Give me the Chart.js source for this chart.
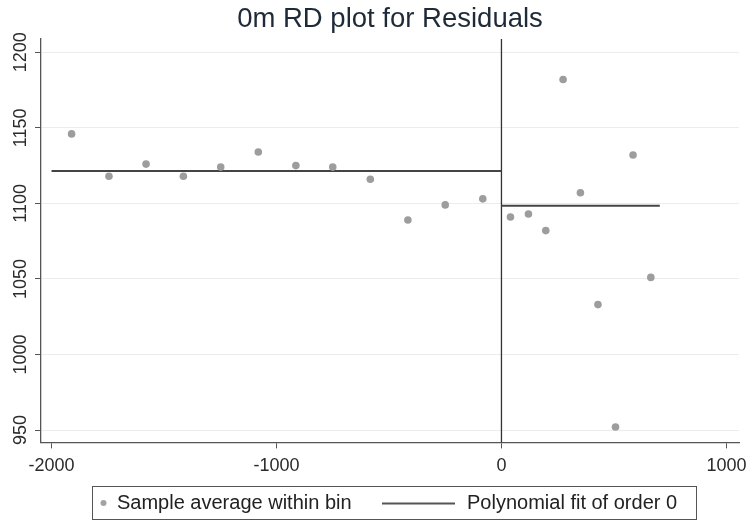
<!DOCTYPE html>
<html>
<head>
<meta charset="utf-8">
<script src="https://cdn.jsdelivr.net/npm/chart.js@4.4.0/dist/chart.umd.min.js"></script>
<style>
  html, body { margin: 0; padding: 0; background: #fff; }
  #wrap { width: 749px; height: 521px; }
</style>
</head>
<body>
<div id="wrap"><canvas id="rdPlot"></canvas></div>
<script>
// bin averages, left and right of the cutoff
const binXLeft = [-1911, -1745, -1580, -1414, -1248, -1081, -914, -750, -583, -416, -250, -83];
const binYLeft = [1146, 1118, 1126, 1118, 1124, 1134, 1125, 1124, 1116, 1089, 1099, 1103];
const binXRight = [40, 120, 197, 274, 351, 429, 507, 585, 664];
const binYRight = [1091, 1093, 1082, 1182, 1107, 1033, 952, 1132, 1051];

// order 0 fit on each side
const fitLeftX = [-2000, 0];
const fitLeftY = [1121.5, 1121.5];
const fitRightX = [0, 704];
const fitRightY = [1098.5, 1098.5];

const cutoff = 0;
const xTicks = [-2000, -1000, 0, 1000];
const yTicks = [950, 1000, 1050, 1100, 1150, 1200];
const xMin = -2047, xMax = 1056;
const yMin = 941.8, yMax = 1208.8;

const FONT = "'Liberation Sans', Arial, sans-serif";

const toPts = (xs, ys) => xs.map((x, i) => ({ x: x, y: ys[i] }));

const boxLegend = {
  id: "boxLegend",
  afterDraw(chart) {
    const ctx = chart.ctx;
    const ds = chart.data.datasets;
    ctx.save();
    ctx.strokeStyle = "#555";
    ctx.lineWidth = 1;
    ctx.strokeRect(92.5, 486.5, 604, 33);
    ctx.font = "20px " + FONT;
    ctx.textBaseline = "middle";
    // dot entry
    ctx.beginPath();
    ctx.arc(103.5, 503, 3, 0, Math.PI * 2);
    ctx.fillStyle = "#a3a3a3";
    ctx.fill();
    ctx.fillStyle = "#222";
    ctx.fillText(ds[0].label, 117, 503);
    // line entry
    ctx.beginPath();
    ctx.moveTo(382, 503.5);
    ctx.lineTo(455, 503.5);
    ctx.strokeStyle = "#555";
    ctx.lineWidth = 2;
    ctx.stroke();
    ctx.fillText(ds[1].label, 467, 503);
    ctx.restore();
  }
};

new Chart("rdPlot", {
  type: "scatter",
  data: {
    datasets: [
      {
        label: "Sample average within bin",
        data: toPts(binXLeft, binYLeft).concat(toPts(binXRight, binYRight)),
        backgroundColor: "#9d9d9d",
        borderWidth: 0,
        pointRadius: 3.8,
      },
      {
        label: "Polynomial fit of order 0",
        data: toPts(fitLeftX, fitLeftY),
        showLine: true,
        borderColor: "#444",
        borderWidth: 2,
        pointRadius: 0,
      },
      {
        label: "fit right",
        data: toPts(fitRightX, fitRightY),
        showLine: true,
        borderColor: "#444",
        borderWidth: 2,
        pointRadius: 0,
      },
      {
        label: "cutoff",
        data: [{ x: cutoff, y: yMin }, { x: cutoff, y: yMax }],
        showLine: true,
        borderColor: "#333",
        borderWidth: 1.3,
        pointRadius: 0,
      },
    ],
  },
  options: {
    responsive: true,
    maintainAspectRatio: false,
    animation: false,
    layout: { padding: { left: 0, right: 10, top: 0, bottom: 38 } },
    plugins: {
      legend: { display: false },
      tooltip: { enabled: false },
      title: {
        display: true,
        fullSize: false,
        text: "0m RD plot for Residuals",
        color: "#1e2a38",
        font: { family: FONT, size: 27.5, weight: "normal" },
        padding: { top: 2.5, bottom: 3.5 },
      },
    },
    scales: {
      x: {
        type: "linear",
        min: xMin,
        max: xMax,
        afterBuildTicks: (scale) => { scale.ticks = xTicks.map((v) => ({ value: v })); },
        afterFit: (scale) => { scale.paddingRight = 0; },
        grid: {
          drawOnChartArea: false,
          tickLength: 6,
          tickColor: "#555",
        },
        border: { color: "#555", width: 1.3 },
        ticks: {
          color: "#2b2b2b",
          padding: 6.5,
          maxRotation: 0,
          font: { family: FONT, size: 18 },
          callback: (v) => String(v),
        },
      },
      y: {
        type: "linear",
        min: yMin,
        max: yMax,
        afterBuildTicks: (scale) => { scale.ticks = yTicks.map((v) => ({ value: v })); },
        afterFit: (scale) => { scale.width = 41; },
        grid: {
          color: "#ececec",
          tickLength: 6,
          tickColor: "#555",
        },
        border: { color: "#555", width: 1.3 },
        ticks: {
          color: "#2b2b2b",
          minRotation: 90,
          maxRotation: 90,
          crossAlign: "center",
          padding: -6.5,
          font: { family: FONT, size: 18 },
          callback: (v) => String(v),
        },
      },
    },
  },
  plugins: [boxLegend],
});
</script>
</body>
</html>
